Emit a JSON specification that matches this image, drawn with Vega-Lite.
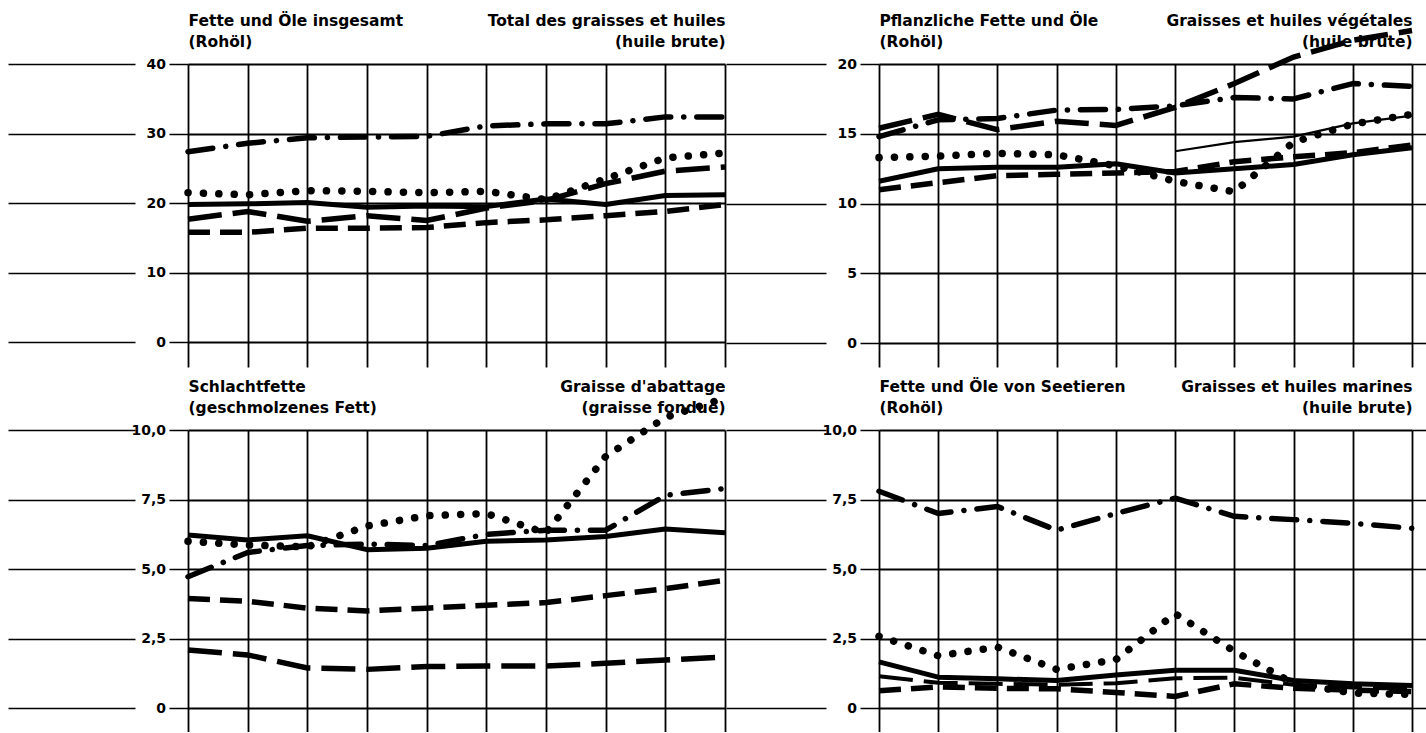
{
  "$schema": "https://vega.github.io/schema/vega-lite/v6.json",
  "background": "white",
  "padding": {"left": 7, "top": 13, "right": 0, "bottom": 0},
  "datasets": {
    "d": [
      {"p":"tl","s":"A","i":0,"v":19.8},{"p":"tl","s":"A","i":1,"v":19.9},{"p":"tl","s":"A","i":2,"v":20.1},{"p":"tl","s":"A","i":3,"v":19.4},{"p":"tl","s":"A","i":4,"v":19.6},
      {"p":"tl","s":"A","i":5,"v":19.5},{"p":"tl","s":"A","i":6,"v":20.6},{"p":"tl","s":"A","i":7,"v":19.8},{"p":"tl","s":"A","i":8,"v":21.1},{"p":"tl","s":"A","i":9,"v":21.2},
      {"p":"tl","s":"B","i":0,"v":21.5},{"p":"tl","s":"B","i":1,"v":21.2},{"p":"tl","s":"B","i":2,"v":21.8},{"p":"tl","s":"B","i":3,"v":21.7},{"p":"tl","s":"B","i":4,"v":21.5},
      {"p":"tl","s":"B","i":5,"v":21.7},{"p":"tl","s":"B","i":6,"v":20.5},{"p":"tl","s":"B","i":7,"v":23.5},{"p":"tl","s":"B","i":8,"v":26.5},{"p":"tl","s":"B","i":9,"v":27.2},
      {"p":"tl","s":"C","i":0,"v":27.4},{"p":"tl","s":"C","i":1,"v":28.6},{"p":"tl","s":"C","i":2,"v":29.4},{"p":"tl","s":"C","i":3,"v":29.5},{"p":"tl","s":"C","i":4,"v":29.6},
      {"p":"tl","s":"C","i":5,"v":31.1},{"p":"tl","s":"C","i":6,"v":31.4},{"p":"tl","s":"C","i":7,"v":31.4},{"p":"tl","s":"C","i":8,"v":32.4},{"p":"tl","s":"C","i":9,"v":32.4},
      {"p":"tl","s":"D","i":0,"v":17.7},{"p":"tl","s":"D","i":1,"v":18.8},{"p":"tl","s":"D","i":2,"v":17.4},{"p":"tl","s":"D","i":3,"v":18.2},{"p":"tl","s":"D","i":4,"v":17.5},
      {"p":"tl","s":"D","i":5,"v":19.3},{"p":"tl","s":"D","i":6,"v":20.4},{"p":"tl","s":"D","i":7,"v":22.8},{"p":"tl","s":"D","i":8,"v":24.6},{"p":"tl","s":"D","i":9,"v":25.2},
      {"p":"tl","s":"E","i":0,"v":15.8},{"p":"tl","s":"E","i":1,"v":15.8},{"p":"tl","s":"E","i":2,"v":16.4},{"p":"tl","s":"E","i":3,"v":16.4},{"p":"tl","s":"E","i":4,"v":16.5},
      {"p":"tl","s":"E","i":5,"v":17.2},{"p":"tl","s":"E","i":6,"v":17.6},{"p":"tl","s":"E","i":7,"v":18.2},{"p":"tl","s":"E","i":8,"v":18.8},{"p":"tl","s":"E","i":9,"v":19.8},

      {"p":"tr","s":"A","i":0,"v":11.6},{"p":"tr","s":"A","i":1,"v":12.5},{"p":"tr","s":"A","i":2,"v":12.6},{"p":"tr","s":"A","i":3,"v":12.6},{"p":"tr","s":"A","i":4,"v":12.85},
      {"p":"tr","s":"A","i":5,"v":12.2},{"p":"tr","s":"A","i":6,"v":12.5},{"p":"tr","s":"A","i":7,"v":12.8},{"p":"tr","s":"A","i":8,"v":13.5},{"p":"tr","s":"A","i":9,"v":14.0},
      {"p":"tr","s":"B","i":0,"v":13.3},{"p":"tr","s":"B","i":1,"v":13.4},{"p":"tr","s":"B","i":2,"v":13.6},{"p":"tr","s":"B","i":3,"v":13.5},{"p":"tr","s":"B","i":4,"v":12.7},
      {"p":"tr","s":"B","i":5,"v":11.6},{"p":"tr","s":"B","i":6,"v":10.85},{"p":"tr","s":"B","i":7,"v":14.4},{"p":"tr","s":"B","i":8,"v":15.7},{"p":"tr","s":"B","i":9,"v":16.4},
      {"p":"tr","s":"C","i":0,"v":14.8},{"p":"tr","s":"C","i":1,"v":16.0},{"p":"tr","s":"C","i":2,"v":16.1},{"p":"tr","s":"C","i":3,"v":16.7},{"p":"tr","s":"C","i":4,"v":16.75},
      {"p":"tr","s":"C","i":5,"v":17.0},{"p":"tr","s":"C","i":6,"v":17.6},{"p":"tr","s":"C","i":7,"v":17.5},{"p":"tr","s":"C","i":8,"v":18.6},{"p":"tr","s":"C","i":9,"v":18.4},
      {"p":"tr","s":"D","i":0,"v":15.4},{"p":"tr","s":"D","i":1,"v":16.4},{"p":"tr","s":"D","i":2,"v":15.3},{"p":"tr","s":"D","i":3,"v":15.9},{"p":"tr","s":"D","i":4,"v":15.6},
      {"p":"tr","s":"D","i":5,"v":16.9},{"p":"tr","s":"D","i":6,"v":18.6},{"p":"tr","s":"D","i":7,"v":20.5},{"p":"tr","s":"D","i":8,"v":21.7},{"p":"tr","s":"D","i":9,"v":22.4},
      {"p":"tr","s":"E","i":0,"v":11.0},{"p":"tr","s":"E","i":1,"v":11.5},{"p":"tr","s":"E","i":2,"v":12.0},{"p":"tr","s":"E","i":3,"v":12.1},{"p":"tr","s":"E","i":4,"v":12.2},
      {"p":"tr","s":"E","i":5,"v":12.3},{"p":"tr","s":"E","i":6,"v":13.0},{"p":"tr","s":"E","i":7,"v":13.35},{"p":"tr","s":"E","i":8,"v":13.65},{"p":"tr","s":"E","i":9,"v":14.2},
      {"p":"tr","s":"F","i":5,"v":13.75},{"p":"tr","s":"F","i":6,"v":14.4},{"p":"tr","s":"F","i":7,"v":14.8},{"p":"tr","s":"F","i":8,"v":15.75},{"p":"tr","s":"F","i":9,"v":16.3},

      {"p":"bl","s":"A","i":0,"v":6.23},{"p":"bl","s":"A","i":1,"v":6.05},{"p":"bl","s":"A","i":2,"v":6.2},{"p":"bl","s":"A","i":3,"v":5.7},{"p":"bl","s":"A","i":4,"v":5.75},
      {"p":"bl","s":"A","i":5,"v":6.0},{"p":"bl","s":"A","i":6,"v":6.05},{"p":"bl","s":"A","i":7,"v":6.17},{"p":"bl","s":"A","i":8,"v":6.44},{"p":"bl","s":"A","i":9,"v":6.31},
      {"p":"bl","s":"B","i":0,"v":6.0},{"p":"bl","s":"B","i":1,"v":5.87},{"p":"bl","s":"B","i":2,"v":5.8},{"p":"bl","s":"B","i":3,"v":6.55},{"p":"bl","s":"B","i":4,"v":6.92},
      {"p":"bl","s":"B","i":5,"v":7.0},{"p":"bl","s":"B","i":6,"v":6.3},{"p":"bl","s":"B","i":7,"v":9.05},{"p":"bl","s":"B","i":8,"v":10.45},{"p":"bl","s":"B","i":9,"v":11.15},
      {"p":"bl","s":"C","i":0,"v":4.73},{"p":"bl","s":"C","i":1,"v":5.6},{"p":"bl","s":"C","i":2,"v":5.85},{"p":"bl","s":"C","i":3,"v":5.9},{"p":"bl","s":"C","i":4,"v":5.85},
      {"p":"bl","s":"C","i":5,"v":6.25},{"p":"bl","s":"C","i":6,"v":6.4},{"p":"bl","s":"C","i":7,"v":6.4},{"p":"bl","s":"C","i":8,"v":7.65},{"p":"bl","s":"C","i":9,"v":7.9},
      {"p":"bl","s":"D","i":0,"v":2.1},{"p":"bl","s":"D","i":1,"v":1.92},{"p":"bl","s":"D","i":2,"v":1.45},{"p":"bl","s":"D","i":3,"v":1.4},{"p":"bl","s":"D","i":4,"v":1.5},
      {"p":"bl","s":"D","i":5,"v":1.52},{"p":"bl","s":"D","i":6,"v":1.52},{"p":"bl","s":"D","i":7,"v":1.62},{"p":"bl","s":"D","i":8,"v":1.74},{"p":"bl","s":"D","i":9,"v":1.84},
      {"p":"bl","s":"E","i":0,"v":3.95},{"p":"bl","s":"E","i":1,"v":3.85},{"p":"bl","s":"E","i":2,"v":3.6},{"p":"bl","s":"E","i":3,"v":3.5},{"p":"bl","s":"E","i":4,"v":3.6},
      {"p":"bl","s":"E","i":5,"v":3.7},{"p":"bl","s":"E","i":6,"v":3.8},{"p":"bl","s":"E","i":7,"v":4.05},{"p":"bl","s":"E","i":8,"v":4.3},{"p":"bl","s":"E","i":9,"v":4.6},

      {"p":"br","s":"A","i":0,"v":1.67},{"p":"br","s":"A","i":1,"v":1.12},{"p":"br","s":"A","i":2,"v":1.06},{"p":"br","s":"A","i":3,"v":1.0},{"p":"br","s":"A","i":4,"v":1.2},
      {"p":"br","s":"A","i":5,"v":1.37},{"p":"br","s":"A","i":6,"v":1.37},{"p":"br","s":"A","i":7,"v":1.0},{"p":"br","s":"A","i":8,"v":0.88},{"p":"br","s":"A","i":9,"v":0.82},
      {"p":"br","s":"B","i":0,"v":2.59},{"p":"br","s":"B","i":1,"v":1.89},{"p":"br","s":"B","i":2,"v":2.2},{"p":"br","s":"B","i":3,"v":1.4},{"p":"br","s":"B","i":4,"v":1.75},
      {"p":"br","s":"B","i":5,"v":3.4},{"p":"br","s":"B","i":6,"v":2.05},{"p":"br","s":"B","i":7,"v":0.9},{"p":"br","s":"B","i":8,"v":0.55},{"p":"br","s":"B","i":9,"v":0.5},
      {"p":"br","s":"C","i":0,"v":7.8},{"p":"br","s":"C","i":1,"v":7.0},{"p":"br","s":"C","i":2,"v":7.25},{"p":"br","s":"C","i":3,"v":6.4},{"p":"br","s":"C","i":4,"v":7.0},
      {"p":"br","s":"C","i":5,"v":7.55},{"p":"br","s":"C","i":6,"v":6.9},{"p":"br","s":"C","i":7,"v":6.78},{"p":"br","s":"C","i":8,"v":6.65},{"p":"br","s":"C","i":9,"v":6.47},
      {"p":"br","s":"D","i":0,"v":1.15},{"p":"br","s":"D","i":1,"v":0.92},{"p":"br","s":"D","i":2,"v":0.88},{"p":"br","s":"D","i":3,"v":0.85},{"p":"br","s":"D","i":4,"v":0.9},
      {"p":"br","s":"D","i":5,"v":1.08},{"p":"br","s":"D","i":6,"v":1.1},{"p":"br","s":"D","i":7,"v":0.85},{"p":"br","s":"D","i":8,"v":0.75},{"p":"br","s":"D","i":9,"v":0.7},
      {"p":"br","s":"E","i":0,"v":0.63},{"p":"br","s":"E","i":1,"v":0.77},{"p":"br","s":"E","i":2,"v":0.72},{"p":"br","s":"E","i":3,"v":0.7},{"p":"br","s":"E","i":4,"v":0.57},
      {"p":"br","s":"E","i":5,"v":0.43},{"p":"br","s":"E","i":6,"v":0.88},{"p":"br","s":"E","i":7,"v":0.72},{"p":"br","s":"E","i":8,"v":0.65},{"p":"br","s":"E","i":9,"v":0.6}
    ]
  },
  "data": {"name": "d"},
  "spacing": 12,
  "vconcat": [
    {
      "spacing": -15,
      "hconcat": [
        {
          "width": 537, "height": 303,
          "transform": [{"filter": "datum.p == 'tl'"}],
          "layer": [
            {
              "transform": [{"filter": "datum.s == 'A'"}],
              "mark": {"type": "line", "color": "black", "strokeWidth": 5, "strokeJoin": "round"},
              "encoding": {
                "x": {"field": "i", "type": "quantitative", "scale": {"domain": [0, 9], "nice": false, "zero": false},
                  "axis": {"orient": "top", "values": [0,1,2,3,4,5,6,7,8,9], "grid": true, "ticks": false, "labels": false, "domain": false,
                    "title": ["Fette und Öle insgesamt", "(Rohöl)"], "titleAnchor": "start", "titleAlign": "left"}},
                "y": {"field": "v", "type": "quantitative", "scale": {"domain": [-3.55, 40], "nice": false, "zero": false},
                  "axis": {"values": [0,10,20,30,40], "grid": true, "tickSize": 180, "tickDash": [19, 34, 127, 0], "labelPadding": -157.5, "domain": false, "title": null}}
              }
            },
            {
              "transform": [{"filter": "datum.s == 'B'"}],
              "mark": {"type": "line", "color": "black", "strokeWidth": 7.5, "strokeCap": "round", "strokeDash": [0.1, 15.3]},
              "encoding": {
                "x": {"field": "i", "type": "quantitative", "scale": {"domain": [0, 9], "nice": false, "zero": false},
                  "axis": {"orient": "top", "grid": false, "ticks": false, "labels": false, "domain": false,
                    "title": ["Total des graisses et huiles", "(huile brute)"], "titleAnchor": "end", "titleAlign": "right"}},
                "y": {"field": "v", "type": "quantitative", "scale": {"domain": [-3.55, 40], "nice": false, "zero": false}, "axis": null}
              }
            },
            {
              "transform": [{"filter": "datum.s == 'C'"}],
              "mark": {"type": "line", "color": "black", "strokeWidth": 5.5, "strokeCap": "round", "strokeJoin": "round", "strokeDash": [25, 13, 0.1, 13]},
              "encoding": {
                "x": {"field": "i", "type": "quantitative", "scale": {"domain": [0, 9], "nice": false, "zero": false}, "axis": null},
                "y": {"field": "v", "type": "quantitative", "scale": {"domain": [-3.55, 40], "nice": false, "zero": false}, "axis": null}
              }
            },
            {
              "transform": [{"filter": "datum.s == 'D'"}],
              "mark": {"type": "line", "color": "black", "strokeWidth": 5.5, "strokeDash": [34, 11]},
              "encoding": {
                "x": {"field": "i", "type": "quantitative", "scale": {"domain": [0, 9], "nice": false, "zero": false}, "axis": null},
                "y": {"field": "v", "type": "quantitative", "scale": {"domain": [-3.55, 40], "nice": false, "zero": false}, "axis": null}
              }
            },
            {
              "transform": [{"filter": "datum.s == 'E'"}],
              "mark": {"type": "line", "color": "black", "strokeWidth": 5.5, "strokeDash": [22, 10]},
              "encoding": {
                "x": {"field": "i", "type": "quantitative", "scale": {"domain": [0, 9], "nice": false, "zero": false}, "axis": null},
                "y": {"field": "v", "type": "quantitative", "scale": {"domain": [-3.55, 40], "nice": false, "zero": false}, "axis": null}
              }
            }
          ],
          "resolve": {"axis": {"x": "independent", "y": "independent"}}
        },
        {
          "width": 533, "height": 303,
          "transform": [{"filter": "datum.p == 'tr'"}],
          "layer": [
            {
              "transform": [{"filter": "datum.s == 'A'"}],
              "mark": {"type": "line", "color": "black", "strokeWidth": 5, "strokeJoin": "round"},
              "encoding": {
                "x": {"field": "i", "type": "quantitative", "scale": {"domain": [0, 9], "nice": false, "zero": false},
                  "axis": {"orient": "top", "values": [0,1,2,3,4,5,6,7,8,9], "grid": true, "ticks": false, "labels": false, "domain": false,
                    "title": ["Pflanzliche Fette und Öle", "(Rohöl)"], "titleAnchor": "start", "titleAlign": "left"}},
                "y": {"field": "v", "type": "quantitative", "scale": {"domain": [-1.7, 20], "nice": false, "zero": false},
                  "axis": {"values": [0,5,10,15,20], "grid": true, "tickSize": 153, "tickDash": [19, 34, 100, 0], "labelPadding": -130.5, "domain": false, "title": null}}
              }
            },
            {
              "transform": [{"filter": "datum.s == 'B'"}],
              "mark": {"type": "line", "color": "black", "strokeWidth": 7.5, "strokeCap": "round", "strokeDash": [0.1, 15.3]},
              "encoding": {
                "x": {"field": "i", "type": "quantitative", "scale": {"domain": [0, 9], "nice": false, "zero": false},
                  "axis": {"orient": "top", "grid": false, "ticks": false, "labels": false, "domain": false,
                    "title": ["Graisses et huiles végétales", "(huile brute)"], "titleAnchor": "end", "titleAlign": "right"}},
                "y": {"field": "v", "type": "quantitative", "scale": {"domain": [-1.7, 20], "nice": false, "zero": false}, "axis": null}
              }
            },
            {
              "transform": [{"filter": "datum.s == 'C'"}],
              "mark": {"type": "line", "color": "black", "strokeWidth": 5.5, "strokeCap": "round", "strokeJoin": "round", "strokeDash": [25, 13, 0.1, 13]},
              "encoding": {
                "x": {"field": "i", "type": "quantitative", "scale": {"domain": [0, 9], "nice": false, "zero": false}, "axis": null},
                "y": {"field": "v", "type": "quantitative", "scale": {"domain": [-1.7, 20], "nice": false, "zero": false},
                  "axis": {"orient": "right", "values": [0,5,10,15,20], "grid": false, "labels": false, "domain": false, "tickSize": 14, "title": null}}
              }
            },
            {
              "transform": [{"filter": "datum.s == 'D'"}],
              "mark": {"type": "line", "color": "black", "strokeWidth": 5.5, "strokeDash": [34, 11]},
              "encoding": {
                "x": {"field": "i", "type": "quantitative", "scale": {"domain": [0, 9], "nice": false, "zero": false}, "axis": null},
                "y": {"field": "v", "type": "quantitative", "scale": {"domain": [-1.7, 20], "nice": false, "zero": false}, "axis": null}
              }
            },
            {
              "transform": [{"filter": "datum.s == 'E'"}],
              "mark": {"type": "line", "color": "black", "strokeWidth": 5.5, "strokeDash": [22, 10]},
              "encoding": {
                "x": {"field": "i", "type": "quantitative", "scale": {"domain": [0, 9], "nice": false, "zero": false}, "axis": null},
                "y": {"field": "v", "type": "quantitative", "scale": {"domain": [-1.7, 20], "nice": false, "zero": false}, "axis": null}
              }
            },
            {
              "transform": [{"filter": "datum.s == 'F'"}],
              "mark": {"type": "line", "color": "black", "strokeWidth": 2.2},
              "encoding": {
                "x": {"field": "i", "type": "quantitative", "scale": {"domain": [0, 9], "nice": false, "zero": false}, "axis": null},
                "y": {"field": "v", "type": "quantitative", "scale": {"domain": [-1.7, 20], "nice": false, "zero": false}, "axis": null}
              }
            }
          ],
          "resolve": {"axis": {"x": "independent", "y": "independent"}}
        }
      ]
    },
    {
      "spacing": -15,
      "hconcat": [
        {
          "width": 537, "height": 302,
          "transform": [{"filter": "datum.p == 'bl'"}],
          "layer": [
            {
              "transform": [{"filter": "datum.s == 'A'"}],
              "mark": {"type": "line", "color": "black", "strokeWidth": 5, "strokeJoin": "round"},
              "encoding": {
                "x": {"field": "i", "type": "quantitative", "scale": {"domain": [0, 9], "nice": false, "zero": false},
                  "axis": {"orient": "top", "values": [0,1,2,3,4,5,6,7,8,9], "grid": true, "ticks": false, "labels": false, "domain": false,
                    "title": ["Schlachtfette", "(geschmolzenes Fett)"], "titleAnchor": "start", "titleAlign": "left"}},
                "y": {"field": "v", "type": "quantitative", "scale": {"domain": [-0.85, 10], "nice": false, "zero": false},
                  "axis": {"values": [0,2.5,5,7.5,10], "grid": true, "tickSize": 180, "tickDash": [19, 34, 127, 0], "labelPadding": -157.5, "domain": false, "title": null,
                    "labelExpr": "datum.value == 0 ? '0' : replace(format(datum.value, '.1f'), '.', ',')"}}
              }
            },
            {
              "transform": [{"filter": "datum.s == 'B'"}],
              "mark": {"type": "line", "color": "black", "strokeWidth": 7.5, "strokeCap": "round", "strokeDash": [0.1, 15.3]},
              "encoding": {
                "x": {"field": "i", "type": "quantitative", "scale": {"domain": [0, 9], "nice": false, "zero": false},
                  "axis": {"orient": "top", "grid": false, "ticks": false, "labels": false, "domain": false,
                    "title": ["Graisse d'abattage", "(graisse fondue)"], "titleAnchor": "end", "titleAlign": "right"}},
                "y": {"field": "v", "type": "quantitative", "scale": {"domain": [-0.85, 10], "nice": false, "zero": false}, "axis": null}
              }
            },
            {
              "transform": [{"filter": "datum.s == 'C'"}],
              "mark": {"type": "line", "color": "black", "strokeWidth": 5.5, "strokeCap": "round", "strokeJoin": "round", "strokeDash": [25, 13, 0.1, 13]},
              "encoding": {
                "x": {"field": "i", "type": "quantitative", "scale": {"domain": [0, 9], "nice": false, "zero": false}, "axis": null},
                "y": {"field": "v", "type": "quantitative", "scale": {"domain": [-0.85, 10], "nice": false, "zero": false}, "axis": null}
              }
            },
            {
              "transform": [{"filter": "datum.s == 'D'"}],
              "mark": {"type": "line", "color": "black", "strokeWidth": 5.5, "strokeDash": [34, 11]},
              "encoding": {
                "x": {"field": "i", "type": "quantitative", "scale": {"domain": [0, 9], "nice": false, "zero": false}, "axis": null},
                "y": {"field": "v", "type": "quantitative", "scale": {"domain": [-0.85, 10], "nice": false, "zero": false}, "axis": null}
              }
            },
            {
              "transform": [{"filter": "datum.s == 'E'"}],
              "mark": {"type": "line", "color": "black", "strokeWidth": 5.5, "strokeDash": [22, 10]},
              "encoding": {
                "x": {"field": "i", "type": "quantitative", "scale": {"domain": [0, 9], "nice": false, "zero": false}, "axis": null},
                "y": {"field": "v", "type": "quantitative", "scale": {"domain": [-0.85, 10], "nice": false, "zero": false}, "axis": null}
              }
            }
          ],
          "resolve": {"axis": {"x": "independent", "y": "independent"}}
        },
        {
          "width": 533, "height": 302,
          "transform": [{"filter": "datum.p == 'br'"}],
          "layer": [
            {
              "transform": [{"filter": "datum.s == 'A'"}],
              "mark": {"type": "line", "color": "black", "strokeWidth": 5, "strokeJoin": "round"},
              "encoding": {
                "x": {"field": "i", "type": "quantitative", "scale": {"domain": [0, 9], "nice": false, "zero": false},
                  "axis": {"orient": "top", "values": [0,1,2,3,4,5,6,7,8,9], "grid": true, "ticks": false, "labels": false, "domain": false,
                    "title": ["Fette und Öle von Seetieren", "(Rohöl)"], "titleAnchor": "start", "titleAlign": "left"}},
                "y": {"field": "v", "type": "quantitative", "scale": {"domain": [-0.85, 10], "nice": false, "zero": false},
                  "axis": {"values": [0,2.5,5,7.5,10], "grid": true, "tickSize": 153, "tickDash": [19, 34, 100, 0], "labelPadding": -130.5, "domain": false, "title": null,
                    "labelExpr": "datum.value == 0 ? '0' : replace(format(datum.value, '.1f'), '.', ',')"}}
              }
            },
            {
              "transform": [{"filter": "datum.s == 'B'"}],
              "mark": {"type": "line", "color": "black", "strokeWidth": 7.5, "strokeCap": "round", "strokeDash": [0.1, 15.3]},
              "encoding": {
                "x": {"field": "i", "type": "quantitative", "scale": {"domain": [0, 9], "nice": false, "zero": false},
                  "axis": {"orient": "top", "grid": false, "ticks": false, "labels": false, "domain": false,
                    "title": ["Graisses et huiles marines", "(huile brute)"], "titleAnchor": "end", "titleAlign": "right"}},
                "y": {"field": "v", "type": "quantitative", "scale": {"domain": [-0.85, 10], "nice": false, "zero": false}, "axis": null}
              }
            },
            {
              "transform": [{"filter": "datum.s == 'C'"}],
              "mark": {"type": "line", "color": "black", "strokeWidth": 5.5, "strokeCap": "round", "strokeJoin": "round", "strokeDash": [25, 13, 0.1, 13]},
              "encoding": {
                "x": {"field": "i", "type": "quantitative", "scale": {"domain": [0, 9], "nice": false, "zero": false}, "axis": null},
                "y": {"field": "v", "type": "quantitative", "scale": {"domain": [-0.85, 10], "nice": false, "zero": false},
                  "axis": {"orient": "right", "values": [0,2.5,5,7.5,10], "grid": false, "labels": false, "domain": false, "tickSize": 14, "title": null}}
              }
            },
            {
              "transform": [{"filter": "datum.s == 'D'"}],
              "mark": {"type": "line", "color": "black", "strokeWidth": 4, "strokeDash": [34, 11]},
              "encoding": {
                "x": {"field": "i", "type": "quantitative", "scale": {"domain": [0, 9], "nice": false, "zero": false}, "axis": null},
                "y": {"field": "v", "type": "quantitative", "scale": {"domain": [-0.85, 10], "nice": false, "zero": false}, "axis": null}
              }
            },
            {
              "transform": [{"filter": "datum.s == 'E'"}],
              "mark": {"type": "line", "color": "black", "strokeWidth": 5.5, "strokeDash": [22, 10]},
              "encoding": {
                "x": {"field": "i", "type": "quantitative", "scale": {"domain": [0, 9], "nice": false, "zero": false}, "axis": null},
                "y": {"field": "v", "type": "quantitative", "scale": {"domain": [-0.85, 10], "nice": false, "zero": false}, "axis": null}
              }
            }
          ],
          "resolve": {"axis": {"x": "independent", "y": "independent"}}
        }
      ]
    }
  ],
  "config": {
    "font": "DejaVu Sans",
    "view": {"stroke": null},
    "axis": {
      "labelFont": "DejaVu Sans", "labelFontSize": 14, "labelFontWeight": "bold", "labelColor": "black",
      "titleFont": "DejaVu Sans", "titleFontSize": 15.5, "titleFontWeight": "bold", "titleColor": "black",
      "titlePadding": 15, "titleLineHeight": 21, "titleBaseline": "bottom",
      "gridColor": "black", "gridWidth": 1.8, "gridOpacity": 1,
      "tickColor": "black", "tickWidth": 1.6,
      "minExtent": 0, "maxExtent": 400
    }
  }
}
